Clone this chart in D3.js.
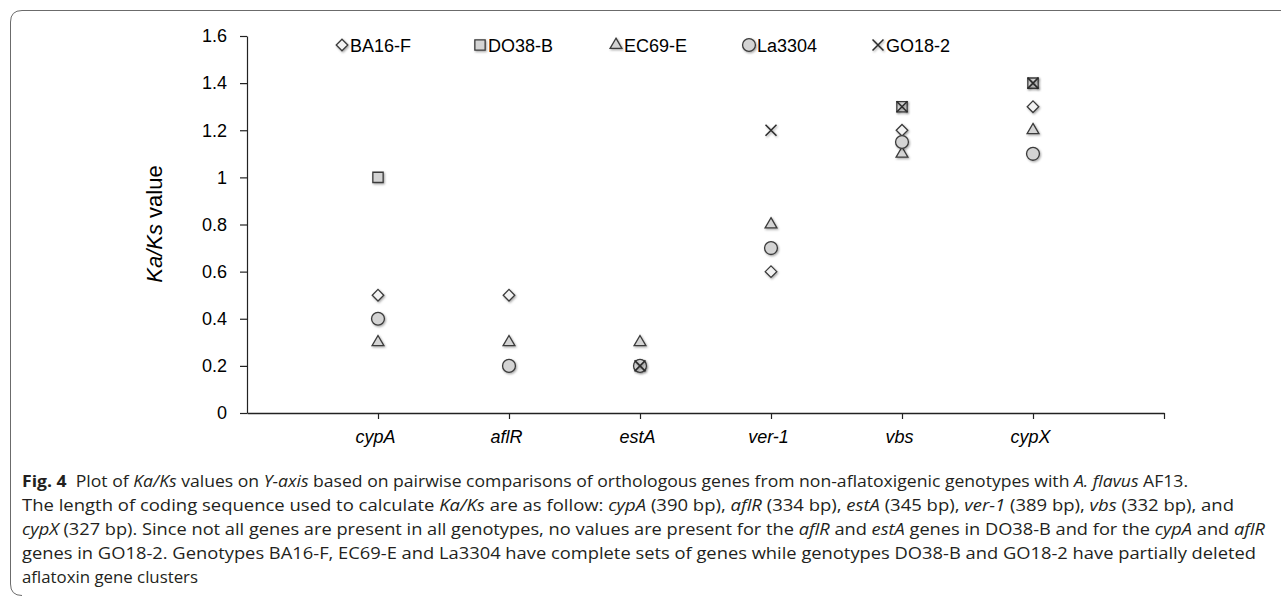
<!DOCTYPE html>
<html>
<head>
<meta charset="utf-8">
<script src="https://cdn.jsdelivr.net/npm/d3@7"></script>
<style>
  html, body { margin: 0; padding: 0; background: #fff; }
  svg { display: block; }
</style>
</head>
<body>
<svg id="chart"></svg>
<script>
// genes on the x axis
const genes = ['cypA', 'aflR', 'estA', 'ver-1', 'vbs', 'cypX']
const genotypes = ['BA16-F', 'DO38-B', 'EC69-E', 'La3304', 'GO18-2']

// Ka/Ks values per genotype (null = gene missing)
const ba16f = [0.5, 0.5, 0.2, 0.6, 1.2, 1.3]
const do38b = [1.0, null, null, null, 1.3, 1.4]
const ec69e = [0.3, 0.3, 0.3, 0.8, 1.1, 1.2]
const la3304 = [0.4, 0.2, 0.2, 0.7, 1.15, 1.1]
const go182 = [null, null, 0.2, 1.2, 1.3, 1.4]

const yTicks = [0, 0.2, 0.4, 0.6, 0.8, 1, 1.2, 1.4, 1.6]

const width = 1281
const height = 596

const svg = d3.select('#chart')
              .attr('width', width)
              .attr('height', height)

// soft shadow like the original markers
const defs = svg.append('defs')
defs.append('filter').attr('id', 'shadow')
    .attr('x', '-50%').attr('y', '-50%').attr('width', '200%').attr('height', '200%')
    .append('feDropShadow')
    .attr('dx', 1).attr('dy', 1.2).attr('stdDeviation', 0.9)
    .attr('flood-color', '#000').attr('flood-opacity', 0.35)

// frame (open on the right)
svg.append('path')
   .attr('d', 'M1281,10.5 L22,10.5 Q10.5,10.5 10.5,22 L10.5,584 Q10.5,595.5 22,595.5')
   .attr('fill', 'none')
   .attr('stroke', '#6b6b6b')
   .attr('stroke-width', 1)

//setting the scales
const xScale = d3.scaleLinear()
                 .domain([0, genes.length + 1])
                 .range([247, 1164])

const yScale = d3.scaleLinear()
                 .domain([0, 1.6])
                 .range([413, 36])

//setting the axes
const xAxis = d3.axisBottom(xScale)
                .tickValues(d3.range(1, genes.length + 2))
                .tickSize(6)
                .tickSizeOuter(0)
                .tickFormat(d => genes[d - 1] || '')

const yAxis = d3.axisLeft(yScale)
                .tickValues(yTicks)
                .tickSize(7)
                .tickSizeOuter(0)
                .tickFormat(d => d3.format('')(+d.toFixed(1)))

const gx = svg.append('g')
              .attr('transform', `translate(0, ${yScale(0)})`)
              .call(xAxis)
gx.select('.domain').attr('stroke', '#222').attr('stroke-width', 1.6)
gx.selectAll('.tick line').attr('stroke', '#222').attr('stroke-width', 1.2)
gx.selectAll('.tick text')
  .attr('dy', '1.05em')
  .attr('y', 11)
  .attr('dx', -3)
  .style('font-family', '"Liberation Sans", Arial, sans-serif')
  .style('font-size', '18px')
  .style('font-style', 'italic')
  .attr('fill', '#000')

const gy = svg.append('g')
              .attr('transform', `translate(${xScale(0)}, 0)`)
              .call(yAxis)
gy.select('.domain').attr('stroke', '#222').attr('stroke-width', 1.2)
gy.selectAll('.tick line').attr('stroke', '#222').attr('stroke-width', 1.2)
gy.selectAll('.tick text')
  .attr('x', -20)
  .style('font-family', '"Liberation Sans", Arial, sans-serif')
  .style('font-size', '18px')
  .attr('fill', '#000')

// y axis title
const yTitle = svg.append('text')
                  .attr('transform', 'translate(162, 224) rotate(-90)')
                  .attr('text-anchor', 'middle')
                  .style('font-family', '"Liberation Sans", Arial, sans-serif')
                  .style('font-size', '22px')
                  .attr('fill', '#000')
yTitle.append('tspan').style('font-style', 'italic').text('Ka/Ks')
yTitle.append('tspan').text(' value')

// marker shapes
const symbols = {
  'BA16-F': d3.symbol(d3.symbolDiamond2, 85),
  'DO38-B': d3.symbol(d3.symbolSquare2, 135),
  'EC69-E': d3.symbol(d3.symbolTriangle2, 100),
  'La3304': d3.symbol(d3.symbolCircle, 130),
  'GO18-2': d3.symbol(d3.symbolX, 80)
}
const fills = {
  'BA16-F': '#f2f2f2',
  'DO38-B': '#d4d4d4',
  'EC69-E': '#d4d4d4',
  'La3304': '#d4d4d4',
  'GO18-2': 'none'
}

const series = [
  { name: 'BA16-F', values: ba16f },
  { name: 'DO38-B', values: do38b },
  { name: 'EC69-E', values: ec69e },
  { name: 'La3304', values: la3304 },
  { name: 'GO18-2', values: go182 }
]

const drawMarker = (sel, name) => {
  sel.attr('d', symbols[name]())
     .attr('fill', fills[name])
     .attr('stroke', name === 'GO18-2' ? '#2a2a2a' : '#3a3a3a')
     .attr('stroke-width', name === 'GO18-2' ? 1.5 : 1.3)
     .attr('filter', 'url(#shadow)')
}

series.forEach(s => {
  const pts = s.values.map((v, i) => ({ gene: i, v: v })).filter(d => d.v != null)
  svg.append('g').selectAll('path')
     .data(pts)
     .join('path')
     .attr('transform', d => `translate(${xScale(d.gene + 1)}, ${yScale(d.v)})`)
     .call(sel => drawMarker(sel, s.name))
})

// legend
const legendX = [342, 480, 616, 749, 878]
const legend = svg.append('g')
genotypes.forEach((name, i) => {
  const g = legend.append('g').attr('transform', `translate(${legendX[i]}, 45)`)
  g.append('path').call(sel => drawMarker(sel, name))
  g.append('text')
   .attr('x', 8)
   .attr('y', 6.5)
   .style('font-family', '"Liberation Sans", Arial, sans-serif')
   .style('font-size', '18px')
   .attr('fill', '#000')
   .text(name)
})

// caption
const caption = [
  { y: 486.5, len: 1166, parts: [['Fig. 4', 'b'], ['  Plot of ', ''], ['Ka/Ks', 'i'], [' values on ', ''], ['Y-axis', 'i'],
    [' based on pairwise comparisons of orthologous genes from non-aflatoxigenic genotypes with ', ''], ['A. flavus', 'i'], [' AF13.', '']] },
  { y: 510.5, len: 1212, parts: [['The length of coding sequence used to calculate ', ''], ['Ka/Ks', 'i'], [' are as follow: ', ''],
    ['cypA', 'i'], [' (390 bp), ', ''], ['aflR', 'i'], [' (334 bp), ', ''], ['estA', 'i'], [' (345 bp), ', ''],
    ['ver-1', 'i'], [' (389 bp), ', ''], ['vbs', 'i'], [' (332 bp), and', '']] },
  { y: 534.5, len: 1243, parts: [['cypX', 'i'], [' (327 bp). Since not all genes are present in all genotypes, no values are present for the ', ''],
    ['aflR', 'i'], [' and ', ''], ['estA', 'i'], [' genes in DO38-B and for the ', ''], ['cypA', 'i'], [' and ', ''], ['aflR', 'i']] },
  { y: 558.5, len: 1234, parts: [['genes in GO18-2. Genotypes BA16-F, EC69-E and La3304 have complete sets of genes while genotypes DO38-B and GO18-2 have partially deleted', '']] },
  { y: 583, len: 176, parts: [['aflatoxin gene clusters', '']] }
]

caption.forEach(line => {
  const t = svg.append('text')
               .attr('x', 22)
               .attr('y', line.y)
               .attr('textLength', line.len)
               .attr('lengthAdjust', 'spacingAndGlyphs')
               .attr('xml:space', 'preserve')
               .style('white-space', 'pre')
               .style('font-family', '"Open Sans", "Noto Sans", sans-serif')
               .style('font-size', '16px')
               .attr('fill', '#231f20')
  line.parts.forEach(p => {
    t.append('tspan')
     .style('font-style', p[1] === 'i' ? 'italic' : 'normal')
     .style('font-weight', p[1] === 'b' ? 'bold' : 'normal')
     .text(p[0])
  })
})
</script>
</body>
</html>
